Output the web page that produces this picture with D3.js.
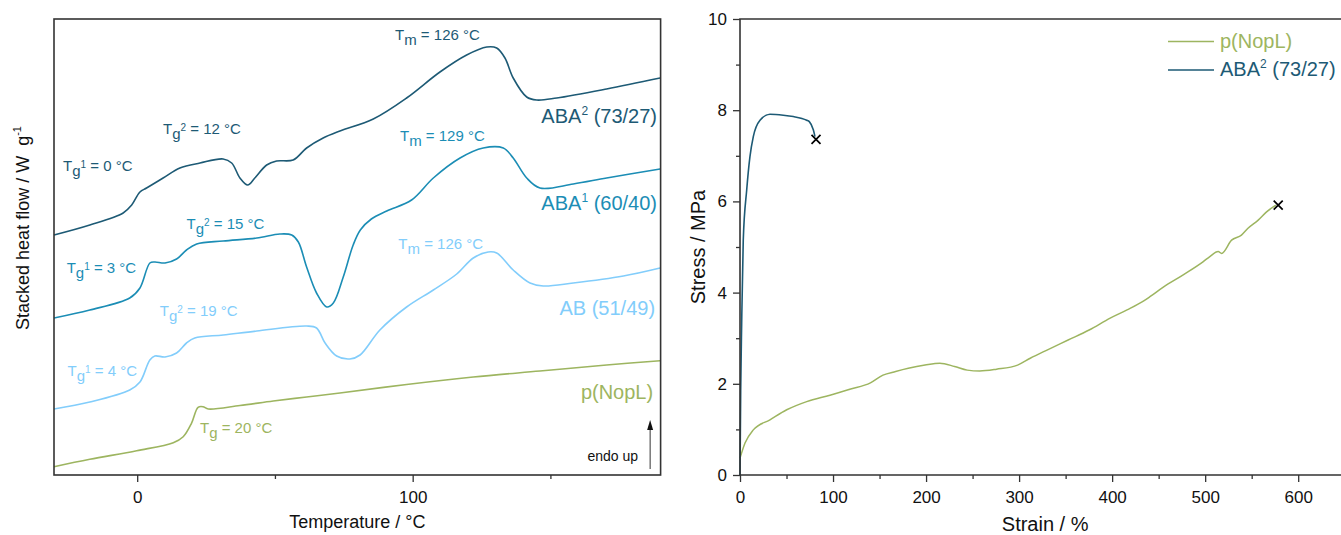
<!DOCTYPE html>
<html><head><meta charset="utf-8">
<script src="https://cdn.jsdelivr.net/npm/d3@7"></script>
<style>
body{margin:0;background:#fff}
svg{display:block}
text{font-family:"Liberation Sans",Arial,Helvetica,sans-serif;white-space:pre}
</style>
</head><body>
<svg id="c" width="1341" height="535"></svg>
<script>
// ---------------- DATA ----------------
// DSC (left) : temperature (°C) and stacked heat flow (arbitrary stacked units)
const ABA2_T = [-30.2,-17.2,-5.1,-2.0,1.0,3.4,9.4,15.5,22.8,31.2,34.3,37.3,40.1,42.7,47.0,50.6,56.6,61.5,67.5,73.6,85.7,97.8,109.9,119.6,126.9,130.5,133.5,136.5,141.4,145.0,152.3,170.4,189.8];
const ABA2_H = [24.0,25.0,26.2,27.0,28.3,28.7,29.7,30.7,31.2,31.6,31.2,29.7,29.0,29.7,31.0,31.4,31.5,32.7,33.7,34.4,35.6,37.7,40.3,42.0,42.8,42.7,41.7,39.7,37.8,37.5,37.7,38.6,39.7];

const ABA1_T = [-30.2,-17.2,-2.7,1.0,4.6,6.4,10.1,14.3,17.9,21.6,31.2,43.4,51.8,56.1,58.5,61.5,65.1,68.8,71.2,74.8,78.4,81.0,85.0,90.6,99.6,107.5,117.2,125.6,132.9,136.5,141.4,146.2,158.3,170.4,189.8];
const ABA1_H = [15.7,16.5,17.7,18.7,21.2,21.3,21.2,21.6,22.5,23.1,23.4,23.7,24.1,24.0,23.3,20.8,18.2,16.8,17.2,19.8,23.0,24.5,25.6,26.4,27.5,29.7,31.7,32.7,32.7,31.7,29.7,28.7,29.1,29.7,30.6];

const AB_T = [-30.2,-17.2,-2.7,1.0,4.6,6.4,10.1,14.3,17.9,20.9,31.2,43.4,61.5,65.1,68.2,72.4,77.2,80.9,88.1,97.8,107.5,116.0,122.0,127.4,130.5,136.5,142.6,147.4,158.3,176.5,189.8];
const AB_H = [6.6,7.3,8.5,9.3,11.5,11.9,11.8,12.2,13.2,13.7,14.0,14.4,14.9,14.7,13.2,11.9,11.6,12.0,14.5,16.8,18.5,20.1,21.7,22.3,22.2,20.5,19.2,18.9,19.2,19.9,20.7];

const NOP_T = [-30.2,-17.2,-0.2,13.1,16.7,19.7,22.1,23.9,25.8,37.3,49.4,61.5,73.6,97.8,122.0,146.2,170.4,189.8];
const NOP_H = [0.83,1.57,2.43,3.23,3.83,5.17,6.77,6.83,6.60,6.95,7.40,7.80,8.20,9.05,9.80,10.40,11.0,11.43];

// Stress-strain (right)
const NOPL_strain = [0,5.4,14.3,32.2,50.2,71.7,96.7,118,140.2,153.7,167.3,180.9,198.9,214.8,230.6,244.2,257.7,275.8,298.4,312,330,352.7,375.3,397.9,416,434,440.6,455,476.4,498,505,514,517.7,528.4,539,546,557,566,576];
const NOPL_stress = [0.37,0.70,0.99,1.21,1.43,1.61,1.75,1.88,2.02,2.19,2.27,2.34,2.41,2.45,2.38,2.30,2.28,2.32,2.41,2.56,2.74,2.96,3.18,3.44,3.62,3.82,3.91,4.12,4.39,4.68,4.79,4.90,4.86,5.15,5.26,5.41,5.59,5.77,5.92];
const ABA2_strain = [0,0.75,1.8,3.5,7.2,10.7,14.3,21.5,32.2,46.5,57.3,71.7,74.5,78.8,80.6];
const ABA2_stress = [0,1.86,3.33,5.15,6.25,6.98,7.42,7.78,7.91,7.89,7.86,7.78,7.75,7.57,7.42];
const breakPoints = [[81.7,7.36],[578.5,5.92]];

// ticks
const dscMajorTicks = [0,100];
const dscMinorTicks = [50,150];
const strainMajorTicks = [0,100,200,300,400,500,600];
const strainMinorTicks = [50,150,250,350,450,550];
const stressMajorTicks = [0,2,4,6,8,10];
const stressMinorTicks = [1,3,5,7,9];

// colours
const C_ABA2 = "#1d5a75", C_ABA1 = "#1b8db5", C_AB = "#82cdfb", C_NOP = "#9db560";

// annotations [colour, T, h, parts]
const dscLabels = [
  [C_ABA2, -26.9, 30.4, [["T","n"],["g","sub"],["1","sup"],[" = 0 °C","n"]]],
  [C_ABA2,   9.4, 34.1, [["T","n"],["g","sub"],["2","sup"],[" = 12 °C","n"]]],
  [C_ABA2,  93.6, 43.5, [["T","n"],["m","sub"],[" = 126 °C","n"]]],
  [C_ABA1,  17.9, 24.6, [["T","n"],["g","sub"],["2","sup"],[" = 15 °C","n"]]],
  [C_ABA1, -25.6, 20.2, [["T","n"],["g","sub"],["1","sup"],[" = 3 °C","n"]]],
  [C_ABA1,  95.4, 33.4, [["T","n"],["m","sub"],[" = 129 °C","n"]]],
  [C_AB,     8.2, 15.9, [["T","n"],["g","sub"],["2","sup"],[" = 19 °C","n"]]],
  [C_AB,   -25.3,  9.9, [["T","n"],["g","sub"],["1","sup"],[" = 4 °C","n"]]],
  [C_AB,    94.8, 22.6, [["T","n"],["m","sub"],[" = 126 °C","n"]]],
  [C_NOP,   22.8,  4.2, [["T","n"],["g","sub"],[" = 20 °C","n"]]]
];
const seriesLabels = [
  [C_ABA2, 188.7, 35.2, [["ABA","n"],["2","sup"],[" (73/27)","n"]]],
  [C_ABA1, 188.7, 26.5, [["ABA","n"],["1","sup"],[" (60/40)","n"]]],
  [C_AB,   188.0, 16.0, [["AB (51/49)","n"]]],
  [C_NOP,  187.3,  7.6, [["p(NopL)","n"]]]
];

// ---------------- DRAW ----------------
const svg = d3.select("#c");

function rich(g, x, y, parts, o) {
  const t = g.append("text").attr("x", x).attr("y", y)
    .attr("fill", o.color).attr("font-size", o.size)
    .attr("text-anchor", o.anchor || "start");
  let cur = 0;
  parts.forEach(p => {
    const off = p[1] === "sub" ? o.subDy : p[1] === "sup" ? o.supDy : 0;
    const fs = p[1] === "sup" ? o.supSize : o.size;
    t.append("tspan").attr("dy", off - cur).attr("font-size", fs).text(p[0]);
    cur = off;
  });
  return t;
}

// ---- Left panel: DSC ----
const xL = d3.scaleLinear().domain([-30.2, 190]).range([54, 660.6]);
const yL = d3.scaleLinear().domain([0, 45.6]).range([475, 19]);
const gL = svg.append("g");

const dscLine = d3.line().x(d => xL(d[0])).y(d => yL(d[1])).curve(d3.curveCatmullRom.alpha(0.5));
const dscSeries = [
  [NOP_T, NOP_H, C_NOP],
  [AB_T, AB_H, C_AB],
  [ABA1_T, ABA1_H, C_ABA1],
  [ABA2_T, ABA2_H, C_ABA2]
];
dscSeries.forEach(([T, H, c]) => {
  gL.append("path").datum(T.map((t, i) => [t, H[i]]))
    .attr("d", dscLine).attr("fill", "none").attr("stroke", c).attr("stroke-width", 1.6);
});

// frame
gL.append("rect").attr("x", xL.range()[0]).attr("y", yL.range()[1])
  .attr("width", xL.range()[1] - xL.range()[0]).attr("height", yL.range()[0] - yL.range()[1])
  .attr("fill", "none").attr("stroke", "#333").attr("stroke-width", 1.6);

const axL = gL.append("g").attr("transform", `translate(0,${yL.range()[0]})`)
  .call(d3.axisBottom(xL).tickValues(dscMajorTicks).tickSize(7).tickPadding(9).tickFormat(d3.format("d")));
axL.select(".domain").remove();
axL.selectAll("text").attr("font-size", 17).attr("fill", "#111").style("font-family", '"Liberation Sans",Arial,sans-serif');
axL.selectAll("line").attr("stroke", "#333").attr("stroke-width", 1.3);
const axLm = gL.append("g").attr("transform", `translate(0,${yL.range()[0]})`)
  .call(d3.axisBottom(xL).tickValues(dscMinorTicks).tickSize(4).tickFormat(""));
axLm.select(".domain").remove();
axLm.selectAll("line").attr("stroke", "#333").attr("stroke-width", 1.3);

dscLabels.forEach(([c, T, h, parts]) => {
  rich(gL, xL(T), yL(h), parts, {color: c, size: 15, subDy: 5, supDy: -3.5, supSize: 10});
});
seriesLabels.forEach(([c, T, h, parts]) => {
  rich(gL, xL(T), yL(h), parts, {color: c, size: 20, subDy: 0, supDy: -8, supSize: 12, anchor: "end"});
});

// endo up
gL.append("text").attr("x", xL(181.8)).attr("y", yL(1.43)).attr("text-anchor", "end")
  .attr("font-size", 14).attr("fill", "#111").text("endo up");
const arrowT = 186.2;
gL.append("line").attr("x1", xL(arrowT)).attr("x2", xL(arrowT)).attr("y1", yL(0.6)).attr("y2", yL(4.6))
  .attr("stroke", "#333").attr("stroke-width", 1);
gL.append("path").attr("d", `M${xL(arrowT)},${yL(5.5)} l-3,10 l6,0 z`).attr("fill", "#111");

// titles
gL.append("text").attr("x", (xL.range()[0] + xL.range()[1]) / 2).attr("y", 528)
  .attr("text-anchor", "middle").attr("font-size", 18).attr("fill", "#111").text("Temperature / °C");
rich(gL, 0, 0, [["Stacked heat flow / W  g","n"],["-1","sup"]], {color: "#111", size: 18, subDy: 0, supDy: -8, supSize: 11, anchor: "middle"})
  .attr("transform", "translate(29,228) rotate(-90)");

// ---- Right panel: stress-strain ----
const xR = d3.scaleLinear().domain([0, 646]).range([740, 1341]);
const yR = d3.scaleLinear().domain([0, 10]).range([475, 19]);
const gR = svg.append("g");

const ssLine = d3.line().x(d => xR(d[0])).y(d => yR(d[1])).curve(d3.curveMonotoneX);
gR.append("path").datum(NOPL_strain.map((s, i) => [s, NOPL_stress[i]]))
  .attr("d", ssLine).attr("fill", "none").attr("stroke", C_NOP).attr("stroke-width", 1.5);
gR.append("path").datum(ABA2_strain.map((s, i) => [s, ABA2_stress[i]]))
  .attr("d", ssLine).attr("fill", "none").attr("stroke", C_ABA2).attr("stroke-width", 1.6);

gR.selectAll("path.brk").data(breakPoints).join("path").attr("class", "brk")
  .attr("transform", d => `translate(${xR(d[0])},${yR(d[1])})`)
  .attr("d", "M-4.5,-4.5L4.5,4.5M-4.5,4.5L4.5,-4.5")
  .attr("stroke", "#000").attr("stroke-width", 1.7).attr("fill", "none");

// frame lines: top, left, bottom
gR.append("path").attr("d", `M${xR.range()[1]},${yR.range()[1]}H${xR.range()[0]}V${yR.range()[0]}H${xR.range()[1]}`)
  .attr("fill", "none").attr("stroke", "#333").attr("stroke-width", 1.6);

const axRx = gR.append("g").attr("transform", `translate(0,${yR.range()[0]})`)
  .call(d3.axisBottom(xR).tickValues(strainMajorTicks).tickSize(7).tickPadding(9).tickFormat(d3.format("d")));
const axRxm = gR.append("g").attr("transform", `translate(0,${yR.range()[0]})`)
  .call(d3.axisBottom(xR).tickValues(strainMinorTicks).tickSize(4).tickFormat(""));
const axRy = gR.append("g").attr("transform", `translate(${xR.range()[0]},0)`)
  .call(d3.axisLeft(yR).tickValues(stressMajorTicks).tickSize(7).tickPadding(6).tickFormat(d3.format("d")));
const axRym = gR.append("g").attr("transform", `translate(${xR.range()[0]},0)`)
  .call(d3.axisLeft(yR).tickValues(stressMinorTicks).tickSize(4).tickFormat(""));
[axRx, axRxm, axRy, axRym].forEach(a => {
  a.select(".domain").remove();
  a.selectAll("line").attr("stroke", "#333").attr("stroke-width", 1.3);
  a.selectAll("text").attr("font-size", 17).attr("fill", "#111").style("font-family", '"Liberation Sans",Arial,sans-serif');
});

gR.append("text").attr("x", xR(328)).attr("y", 531)
  .attr("text-anchor", "middle").attr("font-size", 20).attr("fill", "#111").text("Strain / %");
gR.append("text").attr("transform", `translate(705,${(yR.range()[0] + yR.range()[1]) / 2}) rotate(-90)`)
  .attr("text-anchor", "middle").attr("font-size", 20).attr("fill", "#111").text("Stress / MPa");

// legend
const legend = [[C_NOP, [["p(NopL)","n"]]], [C_ABA2, [["ABA","n"],["2","sup"],[" (73/27)","n"]]]];
legend.forEach(([c, parts], i) => {
  const y = 41.5 + i * 28.5;
  gR.append("line").attr("x1", 1168).attr("x2", 1214).attr("y1", y).attr("y2", y)
    .attr("stroke", c).attr("stroke-width", 1.6);
  rich(gR, 1220, y + 6, parts, {color: c, size: 20, subDy: 0, supDy: -8, supSize: 12});
});
</script>
</body></html>
